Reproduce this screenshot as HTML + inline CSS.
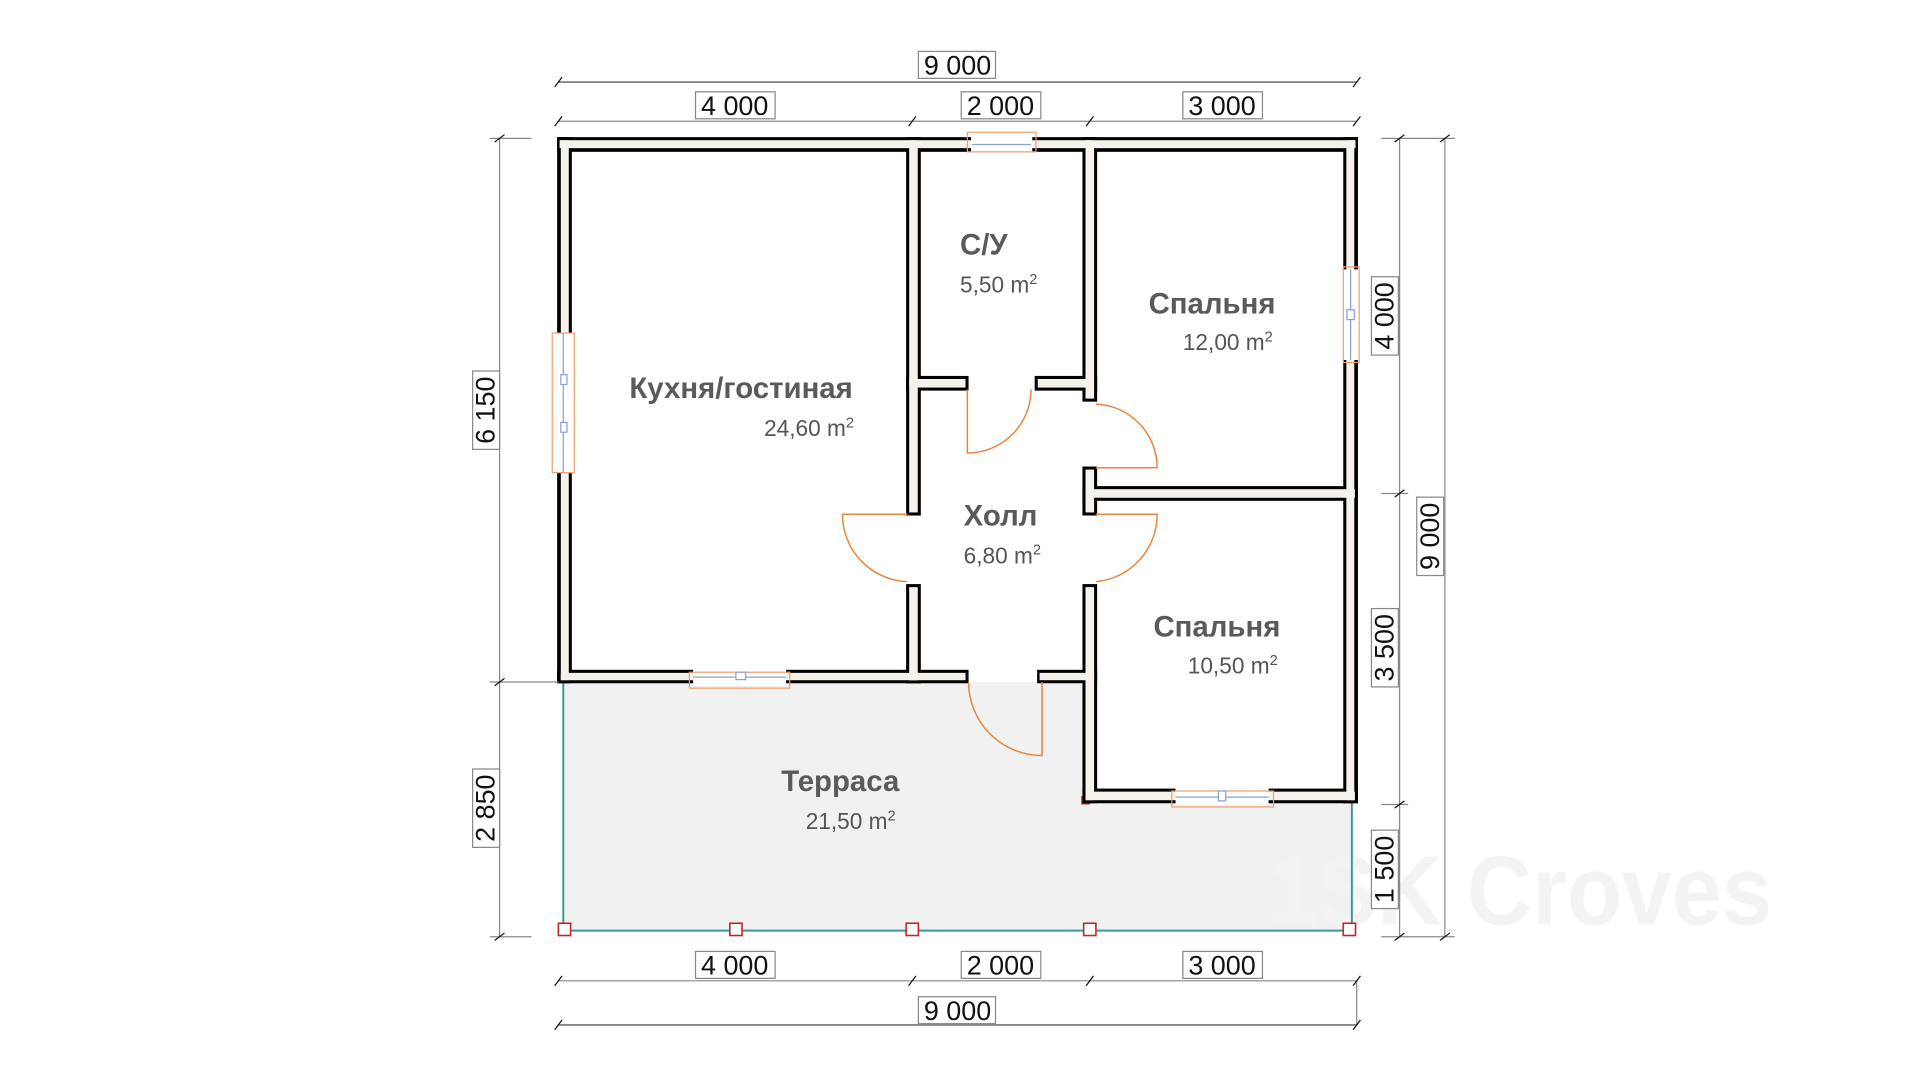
<!DOCTYPE html>
<html><head><meta charset="utf-8"><style>
html,body{margin:0;padding:0;background:#fff;}
svg{display:block;}
text{font-family:"Liberation Sans",sans-serif;}
.rl{font-size:24px;font-weight:bold;fill:#5a5a5a;}
.ar{font-size:18.5px;fill:#555;}
.dm{font-size:22px;fill:#111;}
</style></head><body>
<svg width="1920" height="1080" viewBox="0 0 1568 882" xmlns="http://www.w3.org/2000/svg">
<rect width="1568" height="882" fill="#fff"/>
<!-- terrace -->
<path d="M460 557 H885 V655 H1104 V760 H460 Z" fill="#f1f1f1"/>
<text x="1035" y="755" font-size="80" font-weight="bold" fill="#f3f3f3" textLength="412" lengthAdjust="spacingAndGlyphs">1SK Croves</text>
<g stroke="#3a9a9a" stroke-width="1.6" fill="none">
<line x1="460" y1="557" x2="460" y2="760"/>
<line x1="1104" y1="655" x2="1104" y2="760"/>
<line x1="460" y1="760" x2="1104" y2="760"/>
</g>
<g fill="#fff" stroke="#c0262b" stroke-width="1.3">
<rect x="456" y="754" width="10" height="10"/><rect x="596" y="754" width="10" height="10"/>
<rect x="740" y="754" width="10" height="10"/><rect x="885" y="754" width="10" height="10"/>
<rect x="1097" y="754" width="10" height="10"/>
</g>
<rect x="883" y="650" width="7" height="7" fill="#c0262b"/>
<!-- walls black -->
<g fill="#000">
<rect x="455" y="112" width="654" height="12"/>
<rect x="455" y="112" width="12" height="446"/>
<rect x="1097" y="112" width="12" height="544"/>
<rect x="455" y="547" width="297" height="11"/>
<rect x="740" y="547" width="51" height="11"/>
<rect x="847" y="547" width="49" height="11"/>
<rect x="884" y="644" width="225" height="12"/>
<rect x="740" y="112" width="12" height="309"/>
<rect x="740" y="477" width="12" height="81"/>
<rect x="740" y="307" width="51" height="12"/>
<rect x="845" y="307" width="51" height="12"/>
<rect x="884" y="112" width="12" height="216"/>
<rect x="884" y="381" width="12" height="40"/>
<rect x="884" y="477" width="12" height="179"/>
<rect x="884" y="397" width="225" height="12"/>
</g>
<g fill="#f4f2ea">
<rect x="457" y="114.5" width="650" height="6.5"/>
<rect x="458" y="114.5" width="6.5" height="441"/>
<rect x="1099.5" y="114.5" width="6.5" height="539"/>
<rect x="458" y="549.5" width="292" height="6"/>
<rect x="742.5" y="549.5" width="46" height="6"/>
<rect x="849" y="549.5" width="44.5" height="6"/>
<rect x="886.5" y="646.5" width="220" height="7"/>
<rect x="742.5" y="114.5" width="7" height="304"/>
<rect x="742.5" y="479.5" width="7" height="76"/>
<rect x="742.5" y="309.5" width="46" height="7"/>
<rect x="847.5" y="309.5" width="46" height="7"/>
<rect x="886.5" y="114.5" width="7" height="211"/>
<rect x="886.5" y="383.5" width="7" height="35"/>
<rect x="886.5" y="479.5" width="7" height="174"/>
<rect x="886.5" y="399.5" width="220" height="7"/>
</g>
<!-- windows -->
<g stroke-width="1" fill="#fff">
<rect x="451" y="272" width="20" height="114" fill="#fff" stroke="none"/>
<rect x="451" y="272" width="18" height="114" fill="none" stroke="#f0a070"/>
<line x1="460" y1="272" x2="460" y2="386" stroke="#8aa0d0"/>
<rect x="458" y="306" width="5" height="8" stroke="#8aa0d0"/><rect x="458" y="345" width="5" height="8" stroke="#8aa0d0"/>
<rect x="566" y="545" width="76" height="15" stroke="none"/>
<rect x="563" y="549" width="82" height="13" fill="none" stroke="#f0a070"/>
<line x1="566" y1="553" x2="642" y2="553" stroke="#8aa0d0"/><rect x="601" y="549" width="8" height="6" stroke="#8aa0d0"/>
<rect x="793" y="110" width="50" height="16" stroke="none"/>
<rect x="790" y="108" width="56" height="16" fill="none" stroke="#f0a070"/>
<line x1="794" y1="118" x2="842" y2="118" stroke="#8aa0d0"/>
<rect x="1096" y="220" width="14" height="74" stroke="none"/>
<rect x="1097" y="218" width="13" height="78" fill="none" stroke="#f0a070"/>
<line x1="1103" y1="220" x2="1103" y2="294" stroke="#8aa0d0"/><rect x="1100" y="253" width="6" height="8" stroke="#8aa0d0"/>
<rect x="960" y="643" width="76" height="14" stroke="none"/>
<rect x="957" y="646" width="83" height="13" fill="none" stroke="#f0a070"/>
<line x1="960" y1="651" x2="1036" y2="651" stroke="#8aa0d0"/><rect x="995" y="646" width="6" height="8" stroke="#8aa0d0"/>
</g>
<!-- doors -->
<g fill="none" stroke="#e8843c" stroke-width="1.2">
<path d="M790 318 V370 A52 52 0 0 0 842 318"/>
<path d="M895 382 H945 A52 52 0 0 0 895 330"/>
<path d="M895 420 H945 A55 55 0 0 1 895 475"/>
<path d="M741 420 H688 A55 55 0 0 0 741 475"/>
<path d="M851 557 V617 A60 60 0 0 1 791 557"/>
</g>
<!-- room labels -->
<text class="rl" x="514" y="325">Кухня/гостиная</text>
<text class="ar" x="624" y="356">24,60 m<tspan font-size="12" dy="-7">2</tspan></text>
<text class="rl" x="784" y="208">С/У</text>
<text class="ar" x="784" y="239">5,50 m<tspan font-size="12" dy="-7">2</tspan></text>
<text class="rl" x="938" y="256">Спальня</text>
<text class="ar" x="966" y="286">12,00 m<tspan font-size="12" dy="-7">2</tspan></text>
<text class="rl" x="787" y="429">Холл</text>
<text class="ar" x="787" y="460">6,80 m<tspan font-size="12" dy="-7">2</tspan></text>
<text class="rl" x="942" y="520">Спальня</text>
<text class="ar" x="970" y="550">10,50 m<tspan font-size="12" dy="-7">2</tspan></text>
<text class="rl" x="638" y="646">Терраса</text>
<text class="ar" x="658" y="677">21,50 m<tspan font-size="12" dy="-7">2</tspan></text>
<!-- dimension lines -->
<g stroke="#888" stroke-width="1" fill="none">
<line x1="456" y1="67" x2="1108" y2="67" stroke-width="1.5"/>
<line x1="456" y1="99" x2="1108" y2="99"/>
<line x1="456" y1="801" x2="1108" y2="801"/>
<line x1="456" y1="837" x2="1108" y2="837" stroke-width="1.5"/>
<line x1="1108" y1="801" x2="1108" y2="837"/>
<line x1="408" y1="113" x2="408" y2="765"/>
<line x1="1143" y1="113" x2="1143" y2="765"/>
<line x1="1180" y1="113" x2="1180" y2="765"/>
<line x1="400" y1="113" x2="434" y2="113"/><line x1="400" y1="557" x2="456" y2="557"/><line x1="400" y1="765" x2="434" y2="765"/>
<line x1="1128" y1="113" x2="1188" y2="113"/><line x1="1128" y1="403" x2="1150" y2="403"/><line x1="1128" y1="657" x2="1150" y2="657"/><line x1="1128" y1="765" x2="1188" y2="765"/>
</g>
<g stroke="#111" stroke-width="1">
<path d="M453 71 l6 -8 M1105 71 l6 -8 M453 103 l6 -8 M742 103 l6 -8 M887 103 l6 -8 M1105 103 l6 -8"/>
<path d="M453 805 l6 -8 M742 805 l6 -8 M887 805 l6 -8 M1105 805 l6 -8 M453 841 l6 -8 M1105 841 l6 -8"/>
<path d="M404 116 l8 -6 M404 560 l8 -6 M404 768 l8 -6 M1139 116 l8 -6 M1139 406 l8 -6 M1139 660 l8 -6 M1139 768 l8 -6 M1176 116 l8 -6 M1176 768 l8 -6"/>
</g>
<g fill="#fff" stroke="#888" stroke-width="1">
<rect x="750" y="42" width="63" height="22"/>
<rect x="568" y="75" width="65" height="22"/><rect x="785" y="75" width="65" height="22"/><rect x="966" y="75" width="65" height="22"/>
<rect x="568" y="777" width="65" height="22"/><rect x="785" y="777" width="65" height="22"/><rect x="966" y="777" width="65" height="22"/>
<rect x="750" y="814" width="63" height="22"/>
<rect x="386" y="303" width="22" height="64"/><rect x="386" y="628" width="22" height="64"/>
<rect x="1120" y="226" width="22" height="64"/><rect x="1120" y="497" width="22" height="64"/><rect x="1120" y="678" width="22" height="64"/>
<rect x="1157" y="406" width="22" height="64"/>
</g>
<g text-anchor="middle">
<text class="dm" x="782" y="61">9 000</text>
<text class="dm" x="600" y="94">4 000</text><text class="dm" x="817" y="94">2 000</text><text class="dm" x="998" y="94">3 000</text>
<text class="dm" x="600" y="796">4 000</text><text class="dm" x="817" y="796">2 000</text><text class="dm" x="998" y="796">3 000</text>
<text class="dm" x="782" y="833">9 000</text>
<text class="dm" transform="translate(404 335) rotate(-90)">6 150</text>
<text class="dm" transform="translate(404 660) rotate(-90)">2 850</text>
<text class="dm" transform="translate(1138 258) rotate(-90)">4 000</text>
<text class="dm" transform="translate(1138 529) rotate(-90)">3 500</text>
<text class="dm" transform="translate(1138 710) rotate(-90)">1 500</text>
<text class="dm" transform="translate(1175 438) rotate(-90)">9 000</text>
</g>
</svg>
</body></html>
